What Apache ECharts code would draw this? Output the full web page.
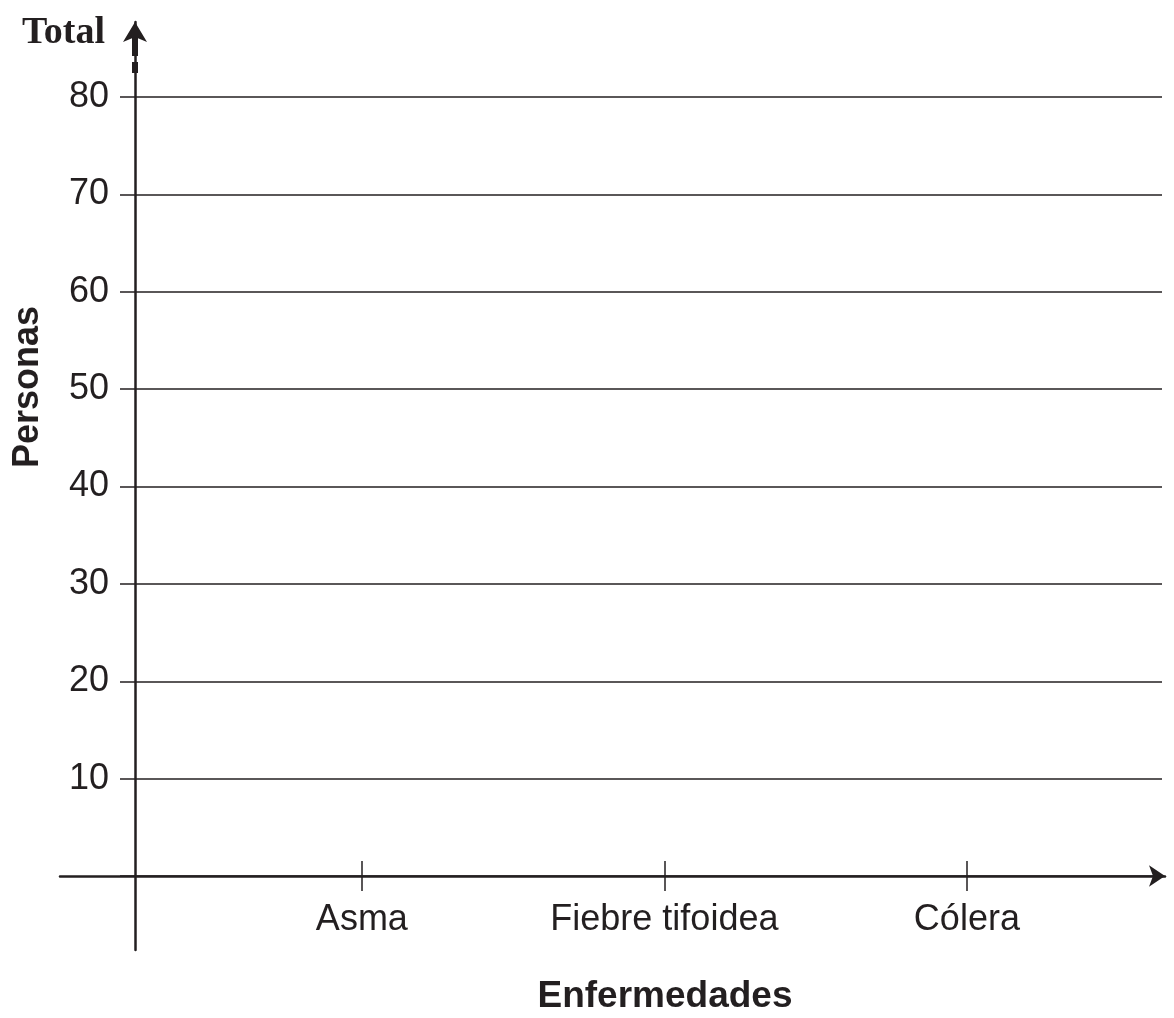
<!DOCTYPE html>
<html>
<head>
<meta charset="utf-8">
<title>Enfermedades</title>
<script src="https://cdn.jsdelivr.net/npm/echarts@6/dist/echarts.min.js"></script>
<style>
  html, body { margin: 0; padding: 0; background: #fff; }
  #chart { width: 1174px; height: 1018px; }
</style>
</head>
<body>
<div id="chart"></div>
<script>
// datos de la gráfica (plantilla vacía: aún no hay valores)
var categorias = ['Asma', 'Fiebre tifoidea', 'Cólera'];
var posiciones = [1, 2, 3];
var personas = [null, null, null];
var marcasY = [0, 10, 20, 30, 40, 50, 60, 70, 80];

var negro = '#231f20';
var fuente = '"Liberation Sans", Arial, Helvetica, sans-serif';

var chart = echarts.init(document.getElementById('chart'));

function ejeOculto(i) {
  return { gridIndex: i, type: 'value', show: false };
}

chart.setOption({
  animation: false,
  backgroundColor: '#fff',
  grid: [
    // zona principal con las líneas de 10 en 10
    { left: 135, right: 12, top: 97, bottom: 142 },
    // eje horizontal con flecha
    { left: 60, right: 9, top: 97, bottom: 142 },
    // eje vertical con flecha
    { left: 135, width: 100, top: 22, bottom: 68 },
    // tramos gruesos debajo de la flecha
    { left: 135, width: 100, top: 31, height: 25 },
    { left: 135, width: 100, top: 62, height: 11 }
  ],
  xAxis: [
    {
      gridIndex: 0, type: 'value', position: 'bottom', min: 0.25, max: 3.645,
      axisLine: { show: false, onZero: false },
      axisTick: { show: true, length: 15, customValues: posiciones, lineStyle: { color: negro, width: 1.5 } },
      axisLabel: {
        customValues: posiciones, margin: 26, color: negro, fontSize: 36, fontFamily: fuente,
        formatter: function (v) { return categorias[Math.round(v) - 1] || ''; }
      },
      splitLine: { show: false }
    },
    {
      gridIndex: 0, type: 'value', position: 'bottom', min: 0.25, max: 3.645,
      axisLine: { show: false, onZero: false },
      axisTick: { show: true, inside: true, length: 15, customValues: posiciones, lineStyle: { color: negro, width: 1.5 } },
      axisLabel: { show: false },
      splitLine: { show: false }
    },
    {
      gridIndex: 1, type: 'value', min: 0, max: 1,
      axisLine: {
        show: true, onZero: false, symbol: ['none', 'arrow'], symbolSize: [16, 16],
        lineStyle: { color: negro, width: 2.5 }
      },
      axisTick: { show: false }, axisLabel: { show: false }, splitLine: { show: false }
    },
    ejeOculto(2), ejeOculto(3), ejeOculto(4)
  ],
  yAxis: [
    {
      gridIndex: 0, type: 'value', min: 0, max: 80, interval: 10,
      axisLine: { show: false, onZero: false },
      axisTick: { show: true, length: 15, lineStyle: { color: negro, width: 1.5 } },
      axisLabel: {
        margin: 26, color: negro, fontSize: 36, fontFamily: fuente,
        formatter: function (v) { return v === 0 ? '' : String(v); }
      },
      splitLine: { show: true, lineStyle: { color: negro, width: 1.5 } }
    },
    ejeOculto(1),
    {
      gridIndex: 2, type: 'value', min: 0, max: 1,
      axisLine: {
        show: true, onZero: false, symbol: ['none', 'arrow'], symbolSize: [18, 20],
        lineStyle: { color: negro, width: 2.5 }
      },
      axisTick: { show: false }, axisLabel: { show: false }, splitLine: { show: false }
    },
    {
      gridIndex: 3, type: 'value', min: 0, max: 1,
      axisLine: { show: true, onZero: false, lineStyle: { color: negro, width: 6, cap: 'butt' } },
      axisTick: { show: false }, axisLabel: { show: false }, splitLine: { show: false }
    },
    {
      gridIndex: 4, type: 'value', min: 0, max: 1,
      axisLine: { show: true, onZero: false, lineStyle: { color: negro, width: 6, cap: 'butt' } },
      axisTick: { show: false }, axisLabel: { show: false }, splitLine: { show: false }
    }
  ],
  graphic: [
    {
      type: 'text', x: 22, y: 33,
      style: { text: 'Total', fill: negro, fontSize: 38, fontWeight: 'bold',
        fontFamily: '"Liberation Serif", "Times New Roman", serif', align: 'left', verticalAlign: 'middle' }
    },
    {
      type: 'text', x: 28, y: 387, rotation: Math.PI / 2,
      style: { text: 'Personas', fill: negro, fontSize: 36, fontWeight: 'bold',
        fontFamily: fuente, align: 'center', verticalAlign: 'middle' }
    },
    {
      type: 'text', x: 665, y: 997,
      style: { text: 'Enfermedades', fill: negro, fontSize: 37, fontWeight: 'bold',
        fontFamily: fuente, align: 'center', verticalAlign: 'middle' }
    }
  ],
  series: [
    {
      name: 'Personas',
      type: 'bar',
      xAxisIndex: 0,
      yAxisIndex: 0,
      barWidth: 120,
      itemStyle: { color: '#888' },
      data: posiciones.map(function (p, i) { return [p, personas[i]]; })
    }
  ]
});
</script>
</body>
</html>
